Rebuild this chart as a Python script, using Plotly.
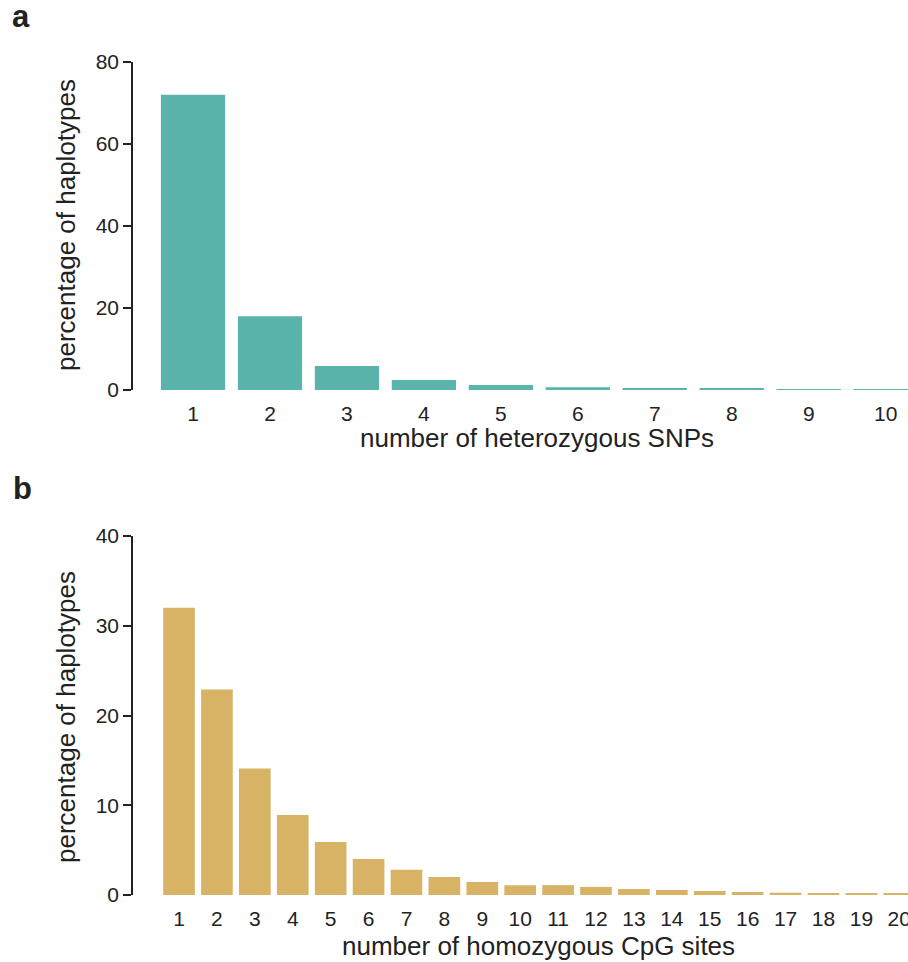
import plotly.graph_objects as go

# Distribution of haplotypes by number of informative sites
snp_counts = list(range(1, 11))
snp_pct = [72.0, 18.0, 5.85, 2.44, 1.22, 0.7, 0.5, 0.25, 0.2, 0.2]

cpg_counts = list(range(1, 21))
cpg_pct = [32.0, 22.9, 14.1, 8.9, 5.9, 4.0, 2.8, 2.0, 1.45, 1.1,
           1.1, 0.9, 0.67, 0.56, 0.45, 0.33, 0.25, 0.2, 0.12, 0.12]

snp_ticks = [0, 20, 40, 60, 80]
cpg_ticks = [0, 10, 20, 30, 40]

TEAL = "#5ab4ac"
GOLD = "#d8b365"
INK = "#222222"
FONT = "Liberation Sans, Arial, sans-serif"

W, H = 908, 962


def px(x):
    return x / W


def py(y):
    return (H - y) / H


fig = go.Figure()
fig.add_trace(go.Bar(x=snp_counts, y=snp_pct, marker_color=TEAL,
                     marker_line_width=0, xaxis="x", yaxis="y"))
fig.add_trace(go.Bar(x=cpg_counts, y=cpg_pct, marker_color=GOLD,
                     marker_line_width=0, xaxis="x2", yaxis="y2"))

tick_font = dict(family=FONT, size=21, color=INK)

xcommon = dict(showline=False, showgrid=False, zeroline=False, ticks="",
               tickfont=tick_font, ticklabelstandoff=9,
               ticklabeloverflow="allow", automargin=False)
ycommon = dict(showline=True, linecolor=INK, linewidth=1.5, showgrid=False,
               zeroline=False, ticks="outside", ticklen=8, tickwidth=1.5,
               tickcolor=INK, tickfont=tick_font, automargin=False)

fig.update_layout(
    width=W, height=H, autosize=False,
    margin=dict(l=0, r=0, t=0, b=0, pad=0),
    paper_bgcolor="white", plot_bgcolor="white",
    showlegend=False, bargap=0.165,
    xaxis=dict(domain=[px(133), 1.0], range=[0.22, 10.29], anchor="y",
               tickvals=snp_counts, **xcommon),
    yaxis=dict(domain=[py(390), py(62)], range=[0, 80], anchor="x",
               tickvals=snp_ticks, **ycommon),
    xaxis2=dict(domain=[px(133), 1.0], range=[-0.214, 20.23], anchor="y2",
                tickvals=cpg_counts, **xcommon),
    yaxis2=dict(domain=[py(895), py(536)], range=[0, 40], anchor="x2",
                tickvals=cpg_ticks, **ycommon),
)

title_font = dict(family=FONT, size=26, color=INK)
label_font = dict(family=FONT, size=31, color=INK)

annotations = [
    dict(text="number of heterozygous SNPs", x=px(537), y=py(438)),
    dict(text="number of homozygous CpG sites", x=px(538), y=py(946)),
    dict(text="percentage of haplotypes", x=px(66), y=py(225), textangle=-90),
    dict(text="percentage of haplotypes", x=px(66), y=py(717), textangle=-90),
]
for a in annotations:
    fig.add_annotation(xref="paper", yref="paper", showarrow=False,
                       xanchor="center", yanchor="middle", font=title_font, **a)

for letter, (lx, ly) in {"a": (21, 16), "b": (22, 488)}.items():
    fig.add_annotation(text=f"<b>{letter}</b>", xref="paper", yref="paper",
                       x=px(lx), y=py(ly), showarrow=False,
                       xanchor="center", yanchor="middle", font=label_font)

fig.write_html("out.html")
